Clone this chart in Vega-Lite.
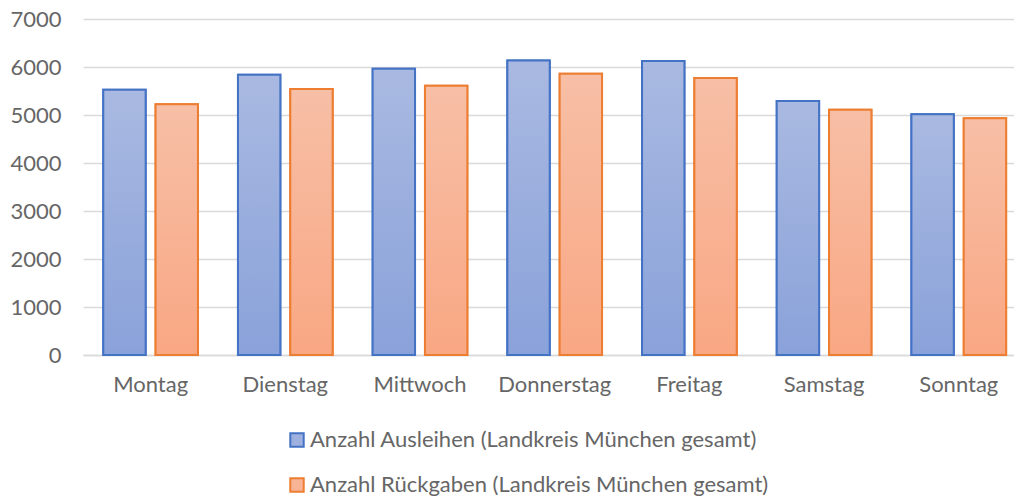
{
  "$schema": "https://vega.github.io/schema/vega-lite/v6.json",
  "width": 931,
  "height": 336,
  "autosize": "none",
  "padding": {"left": 83, "top": 19, "right": 0, "bottom": 141},
  "background": "white",
  "config": {
    "view": {"stroke": null},
    "font": "Lato",
    "axis": {"labelColor": "#666666", "labelFont": "Lato", "labelFontSize": 22, "title": null},
    "legend": {"labelColor": "#666666", "labelFont": "Lato", "labelFontSize": 22, "labelLimit": 0}
  },
  "data": {
    "values": [
      {"day": "Montag", "series": "Anzahl Ausleihen (Landkreis München gesamt)", "value": 5525},
      {"day": "Montag", "series": "Anzahl Rückgaben (Landkreis München gesamt)", "value": 5225},
      {"day": "Dienstag", "series": "Anzahl Ausleihen (Landkreis München gesamt)", "value": 5840},
      {"day": "Dienstag", "series": "Anzahl Rückgaben (Landkreis München gesamt)", "value": 5542},
      {"day": "Mittwoch", "series": "Anzahl Ausleihen (Landkreis München gesamt)", "value": 5965},
      {"day": "Mittwoch", "series": "Anzahl Rückgaben (Landkreis München gesamt)", "value": 5610},
      {"day": "Donnerstag", "series": "Anzahl Ausleihen (Landkreis München gesamt)", "value": 6138},
      {"day": "Donnerstag", "series": "Anzahl Rückgaben (Landkreis München gesamt)", "value": 5860},
      {"day": "Freitag", "series": "Anzahl Ausleihen (Landkreis München gesamt)", "value": 6125},
      {"day": "Freitag", "series": "Anzahl Rückgaben (Landkreis München gesamt)", "value": 5770},
      {"day": "Samstag", "series": "Anzahl Ausleihen (Landkreis München gesamt)", "value": 5292},
      {"day": "Samstag", "series": "Anzahl Rückgaben (Landkreis München gesamt)", "value": 5111},
      {"day": "Sonntag", "series": "Anzahl Ausleihen (Landkreis München gesamt)", "value": 5014},
      {"day": "Sonntag", "series": "Anzahl Rückgaben (Landkreis München gesamt)", "value": 4931}
    ]
  },
  "encoding": {
    "x": {
      "field": "day",
      "type": "nominal",
      "sort": ["Montag", "Dienstag", "Mittwoch", "Donnerstag", "Freitag", "Samstag", "Sonntag"],
      "scale": {"paddingInner": 0.297, "paddingOuter": 0.1045, "align": 0.72},
      "axis": {"labelAngle": 0, "ticks": false, "domainColor": "#D9D9D9", "domainWidth": 1.5, "labelPadding": 19}
    },
    "xOffset": {
      "field": "series",
      "type": "nominal",
      "scale": {"domain": ["Anzahl Ausleihen (Landkreis München gesamt)", "Anzahl Rückgaben (Landkreis München gesamt)"], "paddingInner": 0.19, "paddingOuter": 0}
    },
    "y": {
      "field": "value",
      "type": "quantitative",
      "scale": {"domain": [0, 7000], "nice": false},
      "axis": {"values": [0, 1000, 2000, 3000, 4000, 5000, 6000, 7000], "format": "d", "ticks": false, "domain": false, "gridColor": "#D9D9D9", "gridWidth": 1.5, "labelPadding": 22}
    }
  },
  "layer": [
    {
      "mark": {"type": "bar", "strokeWidth": 2},
      "encoding": {
        "fill": {
          "field": "series",
          "type": "nominal",
          "scale": {"domain": ["Anzahl Ausleihen (Landkreis München gesamt)", "Anzahl Rückgaben (Landkreis München gesamt)"], "range": ["#9DB0DE", "#F7B596"]},
          "legend": {
            "title": null,
            "orient": "none",
            "legendX": 203,
            "legendY": 410,
            "direction": "vertical",
            "symbolType": "square",
            "symbolSize": 180,
            "symbolStrokeWidth": 2,
            "symbolOpacity": 1,
            "rowPadding": 23,
            "labelOffset": 2
          }
        },
        "stroke": {
          "field": "series",
          "type": "nominal",
          "scale": {"domain": ["Anzahl Ausleihen (Landkreis München gesamt)", "Anzahl Rückgaben (Landkreis München gesamt)"], "range": ["#4472C4", "#ED7D31"]},
          "legend": {
            "title": null,
            "orient": "none",
            "legendX": 203,
            "legendY": 410,
            "direction": "vertical",
            "symbolType": "square",
            "symbolSize": 180,
            "symbolStrokeWidth": 2,
            "symbolOpacity": 1,
            "rowPadding": 23,
            "labelOffset": 2
          }
        }
      }
    },
    {
      "transform": [{"filter": "indexof(datum.series, 'Ausleihen') >= 0"}],
      "mark": {
        "type": "bar",
        "strokeWidth": 2,
        "stroke": "#4472C4",
        "fill": {"gradient": "linear", "x1": 0, "y1": 0, "x2": 0, "y2": 1, "stops": [{"offset": 0, "color": "#A9B9E1"}, {"offset": 1, "color": "#8AA2DA"}]}
      }
    },
    {
      "transform": [{"filter": "indexof(datum.series, 'Rückgaben') >= 0"}],
      "mark": {
        "type": "bar",
        "strokeWidth": 2,
        "stroke": "#ED7D31",
        "fill": {"gradient": "linear", "x1": 0, "y1": 0, "x2": 0, "y2": 1, "stops": [{"offset": 0, "color": "#F7BFA6"}, {"offset": 1, "color": "#F9A783"}]}
      }
    }
  ]
}
